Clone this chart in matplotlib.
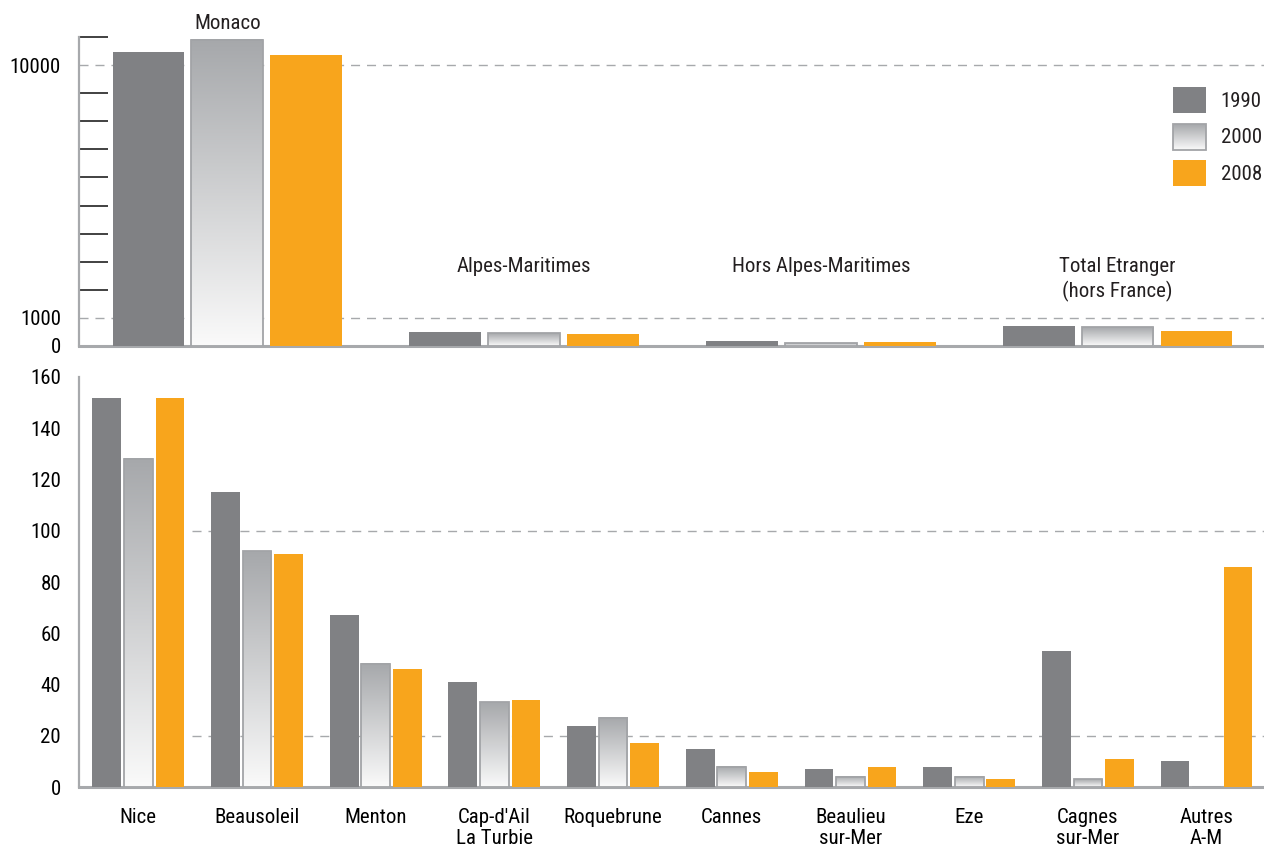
import numpy as np
import matplotlib.pyplot as plt
from matplotlib import font_manager as fm
from matplotlib.colors import LinearSegmentedColormap
from matplotlib.patches import Patch, Rectangle
from matplotlib.legend_handler import HandlerBase
from matplotlib.image import BboxImage
from matplotlib.transforms import Bbox, TransformedBbox

# narrow sans like the original if one is installed
fonts = fm.fontManager.ttflist
names = {f.name for f in fonts}
family, stretch = 'Liberation Sans', 'normal'
for cand in ['Liberation Sans Narrow', 'Roboto Condensed', 'Open Sans Condensed', 'Noto Sans Condensed']:
    if cand in names:
        family = cand
        break
else:
    for cand in ['DejaVu Sans', 'Noto Sans', 'Roboto', 'Open Sans']:
        if any(f.name == cand and f.stretch in ('condensed', 'semi-condensed', 'extra-condensed')
               for f in fonts):
            family, stretch = cand, 'condensed'
            break
plt.rcParams['font.family'] = [family, 'DejaVu Sans']
plt.rcParams['font.stretch'] = stretch
plt.rcParams['text.color'] = '#231f20'

years = ['1990', '2000', '2008']

top_groups = ['Monaco', 'Alpes-Maritimes', 'Hors Alpes-Maritimes',
              'Total Etranger\n(hors France)']
top_1990 = [10470, 500, 180, 710]
top_2000 = [10900, 450, 100, 665]
top_2008 = [10370, 430, 140, 535]

communes = ['Nice', 'Beausoleil', 'Menton', "Cap-d'Ail\nLa Turbie", 'Roquebrune',
            'Cannes', 'Beaulieu\nsur-Mer', 'Eze', 'Cagnes\nsur-Mer', 'Autres\nA-M']
com_1990 = [152, 115, 67, 41, 24, 15, 7, 8, 53, 10]
com_2000 = [128, 92, 48, 33, 27, 8, 4, 4, 3, 0]
com_2008 = [152, 91, 46, 34, 17, 6, 8, 3, 11, 86]

dark = '#808184'
orange = '#f8a51c'
edge = '#a2a4a7'
axis_grey = '#a7a9ac'
grad_cmap = LinearSegmentedColormap.from_list('grad', ['#fafafa', '#a6a8ab'])
grad = np.linspace(0, 1, 256).reshape(-1, 1)

width = 0.242
step = 0.266
fs = 15


class GradientHandler(HandlerBase):
    # legend swatch with the same vertical gradient as the 2000 bars
    def create_artists(self, legend, orig_handle, xdescent, ydescent, width, height, fontsize, trans):
        bb = TransformedBbox(Bbox.from_bounds(-xdescent, -ydescent, width, height), trans)
        img = BboxImage(bb, cmap=grad_cmap, origin='lower', interpolation='bilinear')
        img.set_data(grad)
        rect = Rectangle((-xdescent, -ydescent), width, height, facecolor='none',
                         edgecolor=edge, lw=1.3, transform=trans)
        return [img, rect]


def draw_group_bars(ax, v1990, v2000, v2008):
    x = np.arange(len(v1990))
    ax.bar(x - step, v1990, width, color=dark, zorder=3)
    bars = ax.bar(x, v2000, width, facecolor='none', edgecolor=edge, lw=1.3, zorder=4)
    for p in bars:
        if p.get_height() > 0:
            ax.imshow(grad, extent=(p.get_x(), p.get_x() + p.get_width(), 0, p.get_height()),
                      cmap=grad_cmap, aspect='auto', origin='lower', zorder=3)
    ax.bar(x + step, v2008, width, color=orange, zorder=3)
    ax.set_xlim(-0.5, len(v1990) - 0.5)


def style_axes(ax):
    for s in ['top', 'right']:
        ax.spines[s].set_visible(False)
    ax.spines['left'].set_color(axis_grey)
    ax.spines['left'].set_linewidth(1.6)
    ax.spines['bottom'].set_color(axis_grey)
    ax.spines['bottom'].set_linewidth(2.2)
    ax.tick_params(axis='y', which='major', length=0, pad=13, labelsize=fs)
    ax.tick_params(axis='y', which='minor', direction='in', color='#333333', width=1.3)


fig = plt.figure(figsize=(12.64, 8.47), dpi=100)
ax1 = fig.add_axes([0.0625, 0.5915, 0.939, 0.3648])
ax2 = fig.add_axes([0.0625, 0.0708, 0.939, 0.4841])

# top panel
draw_group_bars(ax1, top_1990, top_2000, top_2008)
ax1.set_ylim(0, 11000)
style_axes(ax1)
ax1.set_yticks([0, 1000, 10000])
ax1.set_yticks([2000, 3000, 4000, 5000, 6000, 7000, 8000, 9000, 11000], minor=True)
ax1.tick_params(axis='y', which='minor', length=21)
ax1.set_xticks([])
for v in [1000, 10000]:
    ax1.axhline(v, color=axis_grey, lw=1, ls=(0, (6.5, 5)), zorder=1)

ax1.text(0, 11480, top_groups[0], ha='center', va='center', fontsize=fs)
for i in [1, 2]:
    ax1.text(i, 2830, top_groups[i], ha='center', va='center', fontsize=fs)
ax1.text(3, 2380, top_groups[3], ha='center', va='center', fontsize=fs, linespacing=1.3)

handles = [Patch(facecolor=dark), Patch(), Patch(facecolor=orange)]
ax1.legend(handles, years, loc='upper right', bbox_to_anchor=(0.9966, 0.838),
           frameon=False, fontsize=fs, handlelength=1.58, handleheight=1.54,
           labelspacing=0.51, handletextpad=0.72, borderpad=0, borderaxespad=0,
           handler_map={handles[1]: GradientHandler()})

# bottom panel
draw_group_bars(ax2, com_1990, com_2000, com_2008)
ax2.set_ylim(0, 160)
style_axes(ax2)
ax2.set_yticks(range(0, 161, 20))
ax2.set_yticks([40, 60, 80, 120, 140], minor=True)
ax2.tick_params(axis='y', which='minor', length=10)
ax2.set_xticks(range(len(communes)))
ax2.set_xticklabels(communes)
ax2.tick_params(axis='x', length=0, pad=15, labelsize=fs)
for t in ax2.get_xticklabels():
    t.set_linespacing(1.15)
ax2.hlines([20, 100], 0.45, len(communes) - 0.5, color=axis_grey, lw=1,
           ls=(0, (6.5, 5)), zorder=1)

fig.savefig('out.png', dpi=100)
